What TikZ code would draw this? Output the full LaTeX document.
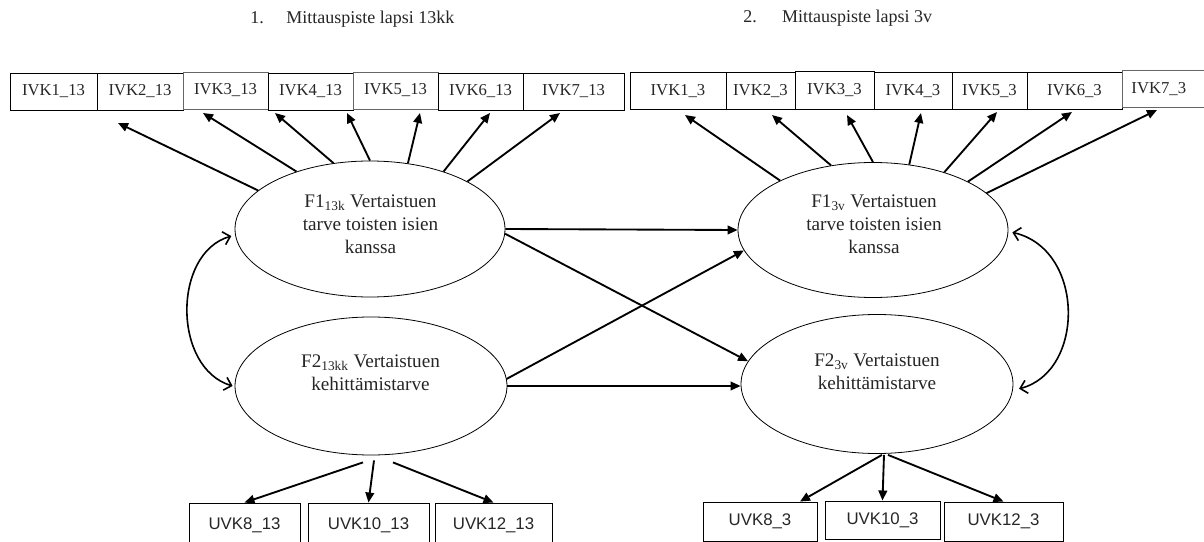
\documentclass[tikz,border=0pt]{standalone}
\usepackage{fontspec}
\setmainfont{Liberation Serif}
\setsansfont{Liberation Sans}
\usetikzlibrary{arrows.meta,shapes.geometric,calc}
\begin{document}
\begin{tikzpicture}[x=0.75pt,y=-0.75pt,
  title/.style={inner sep=0pt,anchor=base west,text=black!85,font=\fontsize{13.5}{16}\selectfont},
  ivk/.style={draw=black,line width=0.7pt,inner sep=0pt,minimum height=37*0.75pt,text=black!85,font=\fontsize{12.5}{14}\selectfont},
  uvk/.style={draw=black,line width=0.7pt,inner sep=0pt,text=black!85,font=\sffamily\fontsize{12.6}{14}\selectfont},
  ell/.style={ellipse,draw=black,line width=0.6pt,inner sep=0pt},
  elltxt/.style={inner sep=0pt,align=center,text=black!85,font=\fontsize{14.4}{17.25}\selectfont},
  arr/.style={line width=1.4pt,-{Triangle[length=7.5pt,width=6.5pt]}},
  dbl/.style={line width=1.2pt,{Straight Barb[length=5pt,width=10pt]}-{Straight Barb[length=5pt,width=10pt]}}
]
\useasboundingbox[fill=white] (0,0) rectangle (1204,542);

% titles
\node[title] (ti1) at (250,24) {1.\hspace{17pt}Mittauspiste lapsi 13kk};
\node[title] (ti2) at (743,23) {2.\hspace{19pt}Mittauspiste lapsi 3v};

% top left boxes
\node[ivk,minimum width=87*0.75pt] (a1) at (53.5,91.5) {IVK1\_13};
\node[ivk,minimum width=86*0.75pt] (a2) at (140,91.5) {IVK2\_13};
\node[ivk,draw=black!60,minimum width=85*0.75pt] (a3) at (225.5,90.5) {IVK3\_13};
\node[ivk,minimum width=85*0.75pt] (a4) at (310.5,91.5) {IVK4\_13};
\node[ivk,draw=black!60,minimum width=85*0.75pt] (a5) at (395.5,90.5) {IVK5\_13};
\node[ivk,minimum width=85*0.75pt] (a6) at (480.5,91.5) {IVK6\_13};
\node[ivk,minimum width=101*0.75pt] (a7) at (573.5,91.5) {IVK7\_13};

% top right boxes
\node[ivk,minimum width=96*0.75pt] (b1) at (678,91) {IVK1\_3};
\node[ivk,minimum width=69*0.75pt] (b2) at (760.5,91) {IVK2\_3};
\node[ivk,minimum width=79*0.75pt,minimum height=38*0.75pt] (b3) at (834.5,90) {IVK3\_3};
\node[ivk,minimum width=78*0.75pt] (b4) at (913,91) {IVK4\_3};
\node[ivk,minimum width=75*0.75pt] (b5) at (989.5,91) {IVK5\_3};
\node[ivk,minimum width=95*0.75pt] (b6) at (1074.5,91) {IVK6\_3};
\node[ivk,draw=black!60,anchor=west,inner xsep=9*0.75pt,text width=90*0.75pt,align=left] (b7) at (1122,89) {IVK7\_3};

% ellipses
\node[ell,minimum width=270*0.75pt,minimum height=136*0.75pt] (F1a) at (370,229) {};
\node[ell,minimum width=272*0.75pt,minimum height=138*0.75pt] (F2a) at (371,386) {};
\node[ell,minimum width=270*0.75pt,minimum height=135*0.75pt] (F1b) at (873,230) {};
\node[ell,minimum width=272*0.75pt,minimum height=139*0.75pt] (F2b) at (877,384) {};
\node[elltxt] (F1at) at (370.5,224) {F1\textsubscript{13k} Vertaistuen\\tarve toisten isien\\kanssa};
\node[elltxt] (F2at) at (370.5,373) {F2\textsubscript{13kk} Vertaistuen\\kehittämistarve};
\node[elltxt] (F1bt) at (874,224) {F1\textsubscript{3v} Vertaistuen\\tarve toisten isien\\kanssa};
\node[elltxt] (F2bt) at (877,372) {F2\textsubscript{3v} Vertaistuen\\kehittämistarve};

% bottom boxes
\node[uvk,minimum width=111*0.75pt,minimum height=44*0.75pt] (u8a) at (244.5,525) {UVK8\_13};
\node[uvk,minimum width=121*0.75pt,minimum height=44*0.75pt] (u10a) at (368.5,525) {UVK10\_13};
\node[uvk,minimum width=117*0.75pt,minimum height=44*0.75pt] (u12a) at (493.5,525) {UVK12\_13};
\node[uvk,minimum width=114*0.75pt,minimum height=39*0.75pt] (u8b) at (760,521.5) {UVK8\_3};
\node[uvk,minimum width=115*0.75pt,minimum height=38*0.75pt] (u10b) at (882.5,520) {UVK10\_3};
\node[uvk,minimum width=119*0.75pt,minimum height=39*0.75pt] (u12b) at (1003.5,521.5) {UVK12\_3};

% arrow targets near top boxes
\coordinate (ta1) at (118,123);
\coordinate (ta2) at (203,113);
\coordinate (ta3) at (275,113);
\coordinate (ta4) at (347,113);
\coordinate (ta5) at (420,113);
\coordinate (ta6) at (490,113);
\coordinate (ta7) at (560,113);
\coordinate (tb1) at (685,115);
\coordinate (tb2) at (772,115);
\coordinate (tb3) at (847,115);
\coordinate (tb4) at (921,113);
\coordinate (tb5) at (997,112);
\coordinate (tb6) at (1072,112);
\coordinate (tb7) at (1157,110);

\draw[arr] (F1a.161.3) -- (ta1);
\draw[arr] (F1a.142.9) -- (ta2);
\draw[arr] (F1a.119.7) -- (ta3);
\draw[arr] (F1a.90) -- (ta4);
\draw[arr] (F1a.60.3) -- (ta5);
\draw[arr] (F1a.38) -- (ta6);
\draw[arr] (F1a.26.8) -- (ta7);

\draw[arr] (F1b.152.5) -- (tb1);
\draw[arr] (F1b.123.9) -- (tb2);
\draw[arr] (F1b.90) -- (tb3);
\draw[arr] (F1b.61.7) -- (tb4);
\draw[arr] (F1b.39.4) -- (tb5);
\draw[arr] (F1b.27.5) -- (tb6);
\draw[arr] (F1b.18.6) -- (tb7);

% structural arrows
\draw[arr] (F1a.east) -- (F1b.west);
\draw[arr] (F1a.-2.5) -- (F2b.170.7);
\draw[arr] (F2a.3.8) -- (F1b.189.5);
\draw[arr] (F2a.east) -- (F2a.east -| F2b.west);

% covariances
\draw[dbl] ([shift={(-4,0)}]F1a.183.7) .. controls +(-59,17) and +(-60,-18) .. ([shift={(-2,0)}]F2a.180.8);
\draw[dbl] ([shift={(4,0)}]F1b.-1.3) .. controls +(73,17) and +(66,-17) .. ([shift={(6,0)}]F2b.-2.1);

% bottom arrows
\draw[arr] ([shift={(-8,7)}]F2a.south) -- (u8a.north);
\draw[arr] ([shift={(3,5)}]F2a.south) -- (u10a.north);
\draw[arr] ([shift={(22,7)}]F2a.south) -- (u12a.north);
\draw[arr] ([shift={(5,1)}]F2b.south) -- ([shift={(40,0)}]u8b.north);
\draw[arr] ([shift={(7,1)}]F2b.south) -- (u10b.north);
\draw[arr] ([shift={(11,1)}]F2b.south) -- (u12b.north);
\end{tikzpicture}
\end{document}
